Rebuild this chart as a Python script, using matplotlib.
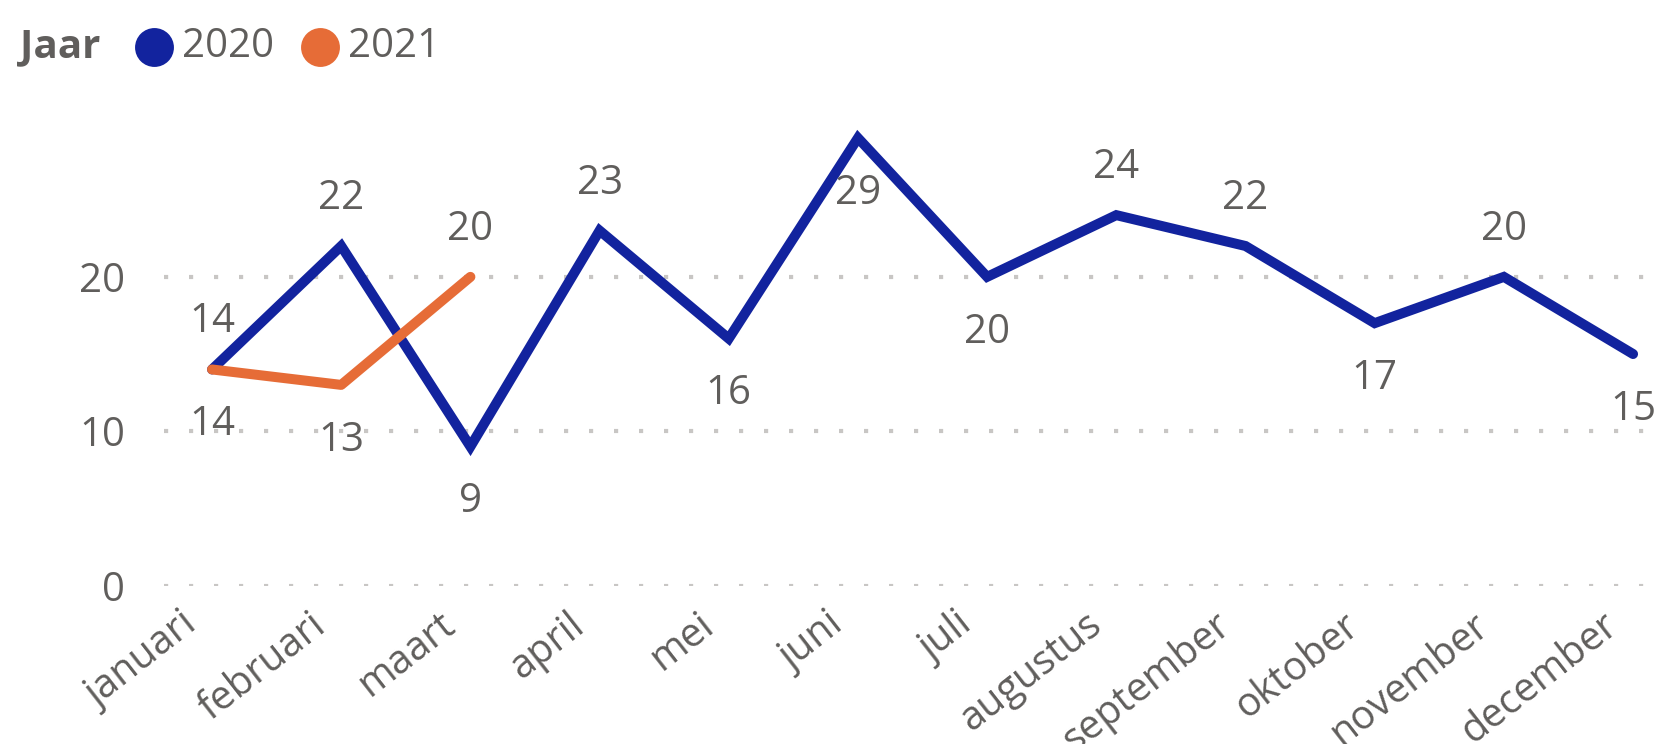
import matplotlib
matplotlib.use("Agg")
import matplotlib.pyplot as plt
from matplotlib.lines import Line2D
from matplotlib.transforms import ScaledTranslation

months = ["januari", "februari", "maart", "april", "mei", "juni", "juli",
          "augustus", "september", "oktober", "november", "december"]
values_2020 = [14, 22, 9, 23, 16, 29, 20, 24, 22, 17, 20, 15]
values_2021 = [14, 13, 20]
pos_2020 = ["above", "above", "below", "above", "below", "below", "below",
            "above", "above", "below", "above", "below"]
pos_2021 = ["below", "below", "above"]
yticks = [0, 10, 20]

BLUE = "#12239E"
ORANGE = "#E66C37"
TXT = "#605E5C"
GRID = "#C8C6C4"
FONT = "Open Sans"
FS = 29

plt.rcParams["font.family"] = [FONT, "DejaVu Sans"]

fig = plt.figure(figsize=(16.63, 7.44), dpi=100)
ax = fig.add_axes([0.0986, 0.213, 0.8966, 0.6223])

x20 = list(range(len(values_2020)))
x21 = list(range(len(values_2021)))
ax.plot(x20, values_2020, color=BLUE, lw=7.2, solid_joinstyle="miter", solid_capstyle="round", zorder=3)
ax.plot(x21, values_2021, color=ORANGE, lw=7.2, solid_joinstyle="round", solid_capstyle="round", zorder=4)

def label(xs, ys, poss):
    for x, y, p in zip(xs, ys, poss):
        off = 34 if p == "above" else -40
        ax.annotate(str(y), (x, y), xytext=(0, off), textcoords="offset points",
                    ha="center", va="center", fontsize=FS, color=TXT, zorder=5)

label(x20, values_2020, pos_2020)
label(x21, values_2021, pos_2021)

ax.set_xlim(-0.372, 11.17)
ax.set_ylim(0, 30)
ax.set_yticks(yticks)
ax.set_yticklabels([str(t) for t in yticks])
ax.set_xticks(x20)
ax.set_xticklabels(months, rotation=38, ha="right", rotation_mode="anchor")
for s in ax.spines.values():
    s.set_visible(False)
ax.tick_params(axis="y", length=0, pad=28, labelsize=FS, labelcolor=TXT)
ax.tick_params(axis="x", length=0, pad=14, labelsize=28.5, labelcolor=TXT)
shift = ScaledTranslation(-0.32, 0, fig.dpi_scale_trans)
for lab in ax.get_xticklabels():
    lab.set_transform(lab.get_transform() + shift)
ax.yaxis.grid(True, color=GRID, lw=3, linestyle=(0, (1, 5)))
ax.set_axisbelow(True)

# legend
fig.text(20 / 1663, 1 - 47 / 744, "Jaar", fontsize=FS, fontweight="bold", color=TXT,
         ha="left", va="center")
for cx, tx, lab, col in [(154, 182, "2020", BLUE), (320, 348, "2021", ORANGE)]:
    fig.add_artist(Line2D([cx / 1663], [1 - 47 / 744], marker="o", markersize=28,
                          color=col, markeredgewidth=0, transform=fig.transFigure))
    fig.text(tx / 1663, 1 - 47 / 744, lab, fontsize=FS, color=TXT, ha="left", va="center")

fig.savefig("out.png", dpi=100)
